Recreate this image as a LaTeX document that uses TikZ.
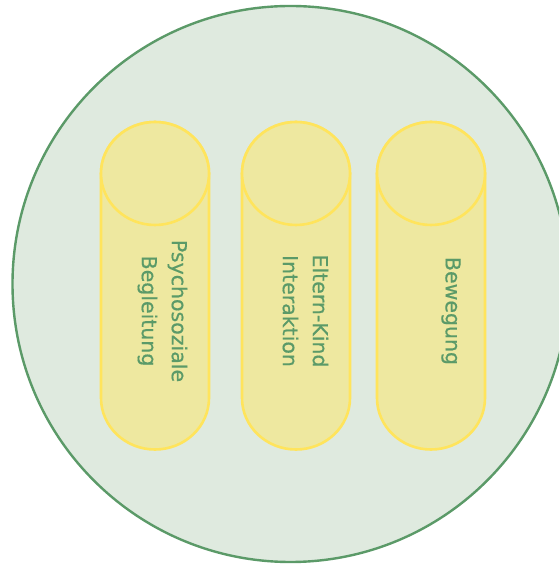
\documentclass[tikz,border=0pt]{standalone}
\usepackage{fontspec}
\setmainfont{DejaVu Sans}
\newfontfamily\lblfont[FakeBold=0.6]{DejaVu Sans}
\definecolor{circfill}{HTML}{DFEADF}
\definecolor{circline}{HTML}{5B9A68}
\definecolor{cylfill}{HTML}{EEE8A0}
\definecolor{cylline}{HTML}{FFE45C}
\definecolor{txt}{HTML}{5B9A68}
\tikzset{
  bigcircle/.style={fill=circfill, draw=circline, line width=2.4pt},
  cylbody/.style={fill=cylfill, draw=cylline, line width=2.6pt},
  lbl/.style={text=txt, font=\lblfont\fontsize{20.5pt}{30pt}\selectfont, align=center, inner sep=0pt, rotate=-90}
}
\begin{document}
\begin{tikzpicture}[x=1pt,y=1pt]
\useasboundingbox (0,0) rectangle (559,564);
\clip (0,0) rectangle (559,564);
\draw[bigcircle] (290.5,280) circle[radius=278pt];
\foreach \cx in {155,296,431} {
  \filldraw[cylbody] (\cx-54,390.5) -- (\cx-54,166)
    arc[start angle=180,end angle=360,x radius=54pt,y radius=51.5pt]
    -- (\cx+54,390.5)
    arc[start angle=0,end angle=180,x radius=54pt,y radius=51.5pt] -- cycle;
  \draw[cylbody] (\cx,390.5) ellipse[x radius=54pt,y radius=51.5pt];
}
\node[lbl] (t1) at (162.5,253) {Psychosoziale\\Begleitung};
\node[lbl] (t2) at (305.5,253) {Eltern-Kind\\Interaktion};
\node[lbl] (t3) at (451,253) {Bewegung};
\end{tikzpicture}
\end{document}
